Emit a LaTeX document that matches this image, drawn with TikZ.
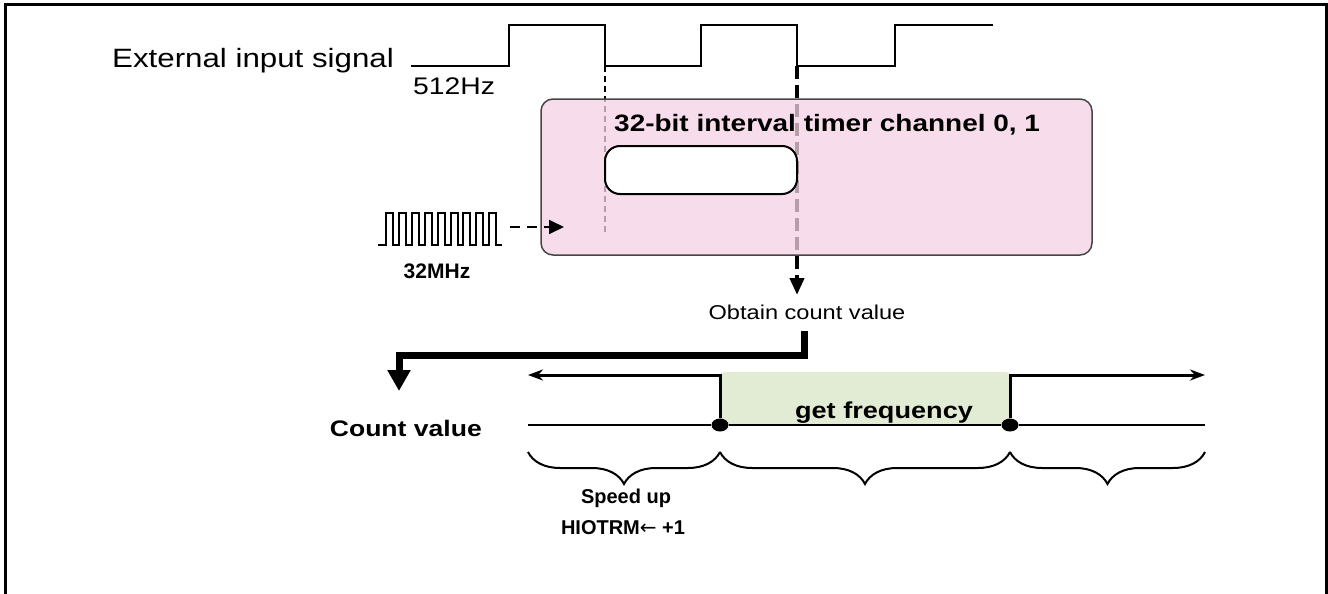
\documentclass[tikz,border=0pt]{standalone}
\usepackage{fontspec}
\setmainfont{Liberation Sans}
\newfontfamily\widesans[FakeStretch=1.18]{Liberation Sans}
\newfontfamily\arrowfont{DejaVu Sans}
\usetikzlibrary{arrows.meta,decorations.pathreplacing,shapes.geometric}
\definecolor{timerpink}{RGB}{244,210,228}
\definecolor{freqgreen}{RGB}{226,235,211}
\definecolor{boxgray}{RGB}{70,70,70}
\tikzset{
  sigline/.style={line width=2.5pt},
  timerbox/.style={draw=boxgray,line width=1.5pt,rounded corners=12pt,fill=timerpink,fill opacity=0.75,minimum width=551,minimum height=156,inner sep=0pt},
  cntbox/.style={draw,line width=2pt,rounded corners=15pt,fill=white,minimum width=192,minimum height=48,inner sep=0pt},
  dot/.style={ellipse,fill,minimum width=17,minimum height=13,inner sep=0pt},
  brc/.style={decorate,decoration={brace,mirror,amplitude=32pt,aspect=0.5},line width=2pt},
  txt/.style={inner sep=0pt}
}
\begin{document}
\begin{tikzpicture}[x=1pt,y=-1pt]
    \useasboundingbox (0,0) rectangle (1328,594);
    \draw[line width=3pt] (5,594) -- (5,5) -- (1326,5) -- (1326,594);
    % external input signal
    \node[txt,anchor=base east,font=\widesans\fontsize{26.5}{30}\selectfont] at (394,67) (signame) {External input signal};
    \node[txt,anchor=base west,font=\widesans\fontsize{24}{28}\selectfont] at (413,94) (sigfreq) {512Hz};
    \draw[sigline] (411,66) -- (509,66) -- (509,25) -- (605,25) -- (605,66) -- (701,66) -- (701,25)
        -- (797,25) -- (797,66) -- (895,66) -- (895,25) -- (993,25);
    \coordinate (fall1) at (605,66);
    \coordinate (fall2) at (797,66);
    \coordinate (thinend) at (605,235);
    \coordinate (getval) at (797,295);
    \draw[line width=1.5pt,dash pattern=on 6pt off 4pt] (fall1) -- (thinend);
    \draw[line width=4pt,dash pattern=on 13pt off 6pt,-{Triangle[length=17pt,width=14pt]}] (fall2) -- (getval);
    % timer
    \node[timerbox] at (816.5,177) (timer) {};
    \node[cntbox] at (701,170) (counter) {};
    \node[txt,anchor=base west,font=\widesans\bfseries\fontsize{23.7}{28}\selectfont] at (614,131) (timername) {32-bit interval timer channel 0, 1};
    % 32MHz clock
    \draw[line width=2pt] (378,245) \foreach \i in {0,...,8} { -- ({386+12.9*\i},245) -- ({386+12.9*\i},213)
        -- ({393+12.9*\i},213) -- ({393+12.9*\i},245) } -- (502,245);
    \node[txt,font=\bfseries\fontsize{21}{25}\selectfont] at (437,271) (clkfreq) {32MHz};
    \coordinate (clkout) at (510,227);
    \coordinate (clkin) at (564,227);
    \draw[line width=1.8pt,dash pattern=on 10pt off 7pt,-{Triangle[length=15pt,width=14pt]}] (clkout) -- (clkin);
    \node[txt,anchor=base,font=\widesans\fontsize{20}{24}\selectfont] at (807,319) (obtain) {Obtain count value};
    % count value
    \coordinate (takeval) at (804,331);
    \coordinate (cntval) at (399,391);
    \draw[line width=7pt,-{Triangle[length=21pt,width=22pt]}] (takeval) -- (804,355) -| (cntval);
    \node[txt,anchor=base east,font=\widesans\bfseries\fontsize{22.5}{27}\selectfont] at (482,436) (cntname) {Count value};
    \fill[freqgreen,rounded corners=4pt] (720,425) -- (720,372) -- (1010,372) -- (1010,425) -- cycle;
    \begin{scope}
        \clip (720,372) rectangle (1010,422);
        \node[txt,anchor=base,font=\widesans\bfseries\fontsize{23}{27}\selectfont] at (884,418) (freq) {get frequency};
    \end{scope}
    \node[dot] at (720,425) (d1) {};
    \node[dot] at (1010,425) (d2) {};
    \coordinate (lt) at (528,375);
    \coordinate (rt) at (1205,375);
    \coordinate (lb) at (528,425);
    \coordinate (rb) at (1205,425);
    \draw[line width=2pt] (lb) -- (d1) -- (d2) -- (rb);
    \draw[line width=3pt,-{Stealth[length=15pt,width=11pt]}] (d1) -- (720,375) -- (lt);
    \draw[line width=3pt,-{Stealth[length=15pt,width=11pt]}] (d2) -- (1010,375) -- (rt);
    \draw[brc] (528,452) -- (720,452);
    \draw[brc] (720,452) -- (1010,452);
    \draw[brc] (1010,452) -- (1205,452);
    \node[txt,font=\bfseries\fontsize{20}{24}\selectfont] at (626,498) (speed) {Speed up};
    \node[txt,font=\bfseries\fontsize{20}{24}\selectfont] at (623,528) (trim) {HIOTRM{\arrowfont\mdseries ←} +1};
\end{tikzpicture}
\end{document}
